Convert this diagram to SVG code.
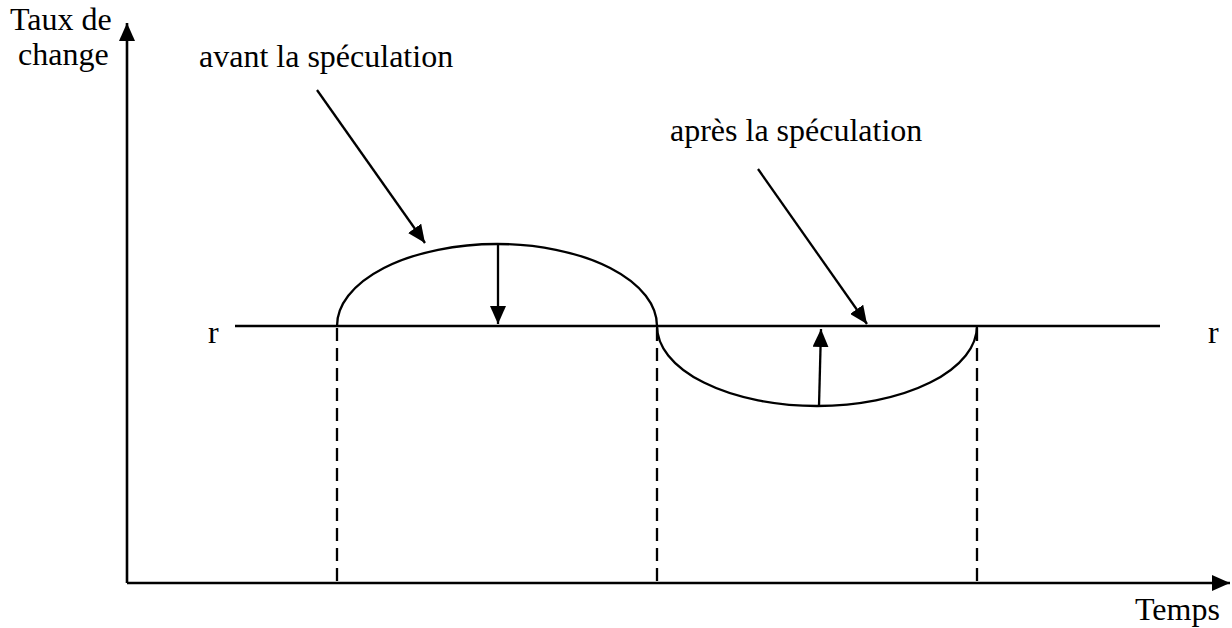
<svg xmlns="http://www.w3.org/2000/svg" width="1232" height="628" viewBox="0 0 1232 628">
<style>
text{font-family:"Liberation Serif","Times New Roman",serif;font-size:32px;fill:#000}
.ln{stroke:#000;stroke-width:2.3;fill:none}
.ax{stroke:#000;stroke-width:2.6;fill:none}
.dash{stroke:#000;stroke-width:2.3;stroke-dasharray:13 7;fill:none}
</style>
<defs>
<marker id="ah" markerUnits="userSpaceOnUse" markerWidth="20" markerHeight="16" refX="18" refY="8" orient="auto">
<path d="M0,0 L18,8 L0,16 Z" fill="#000"/>
</marker>
</defs>
<g id="axes">
<line class="ax" x1="127" y1="583" x2="127" y2="23" marker-end="url(#ah)"/>
<line class="ax" x1="127" y1="583" x2="1230" y2="583" marker-end="url(#ah)"/>
</g>
<g id="labels">
<text x="10" y="30">Taux de</text>
<text x="18" y="65">change</text>
<text x="1135" y="620">Temps</text>
<text x="208" y="343">r</text>
<text x="1208" y="343">r</text>
<text x="199" y="67">avant la spéculation</text>
<text x="670" y="141">après la spéculation</text>
</g>
<g id="rline"><line class="ln" x1="235" y1="326" x2="1160" y2="326"/></g>
<g id="curves">
<path class="ln" d="M337,326 A160,82 0 0 1 657,326"/>
<path class="ln" d="M657,326 A160,80 0 0 0 977,326"/>
</g>
<g id="connectors">
<line class="dash" x1="337" y1="328" x2="337" y2="583"/>
<line class="dash" x1="657" y1="328" x2="657" y2="583"/>
<line class="dash" x1="977" y1="328" x2="977" y2="583"/>
<line class="ln" x1="498" y1="244" x2="498" y2="324" marker-end="url(#ah)"/>
<line class="ln" x1="819" y1="406" x2="821" y2="329" marker-end="url(#ah)"/>
<line class="ln" x1="317" y1="90" x2="425" y2="243" marker-end="url(#ah)"/>
<line class="ln" x1="758" y1="169" x2="867" y2="324" marker-end="url(#ah)"/>
</g>
</svg>
